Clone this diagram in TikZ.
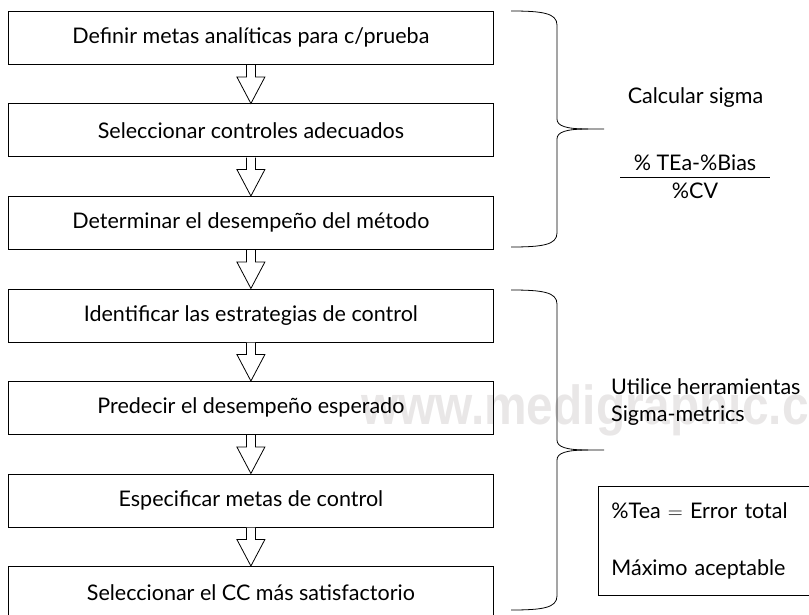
\documentclass[tikz,border=0pt]{standalone}
\usepackage{fontspec}
\setmainfont{Lato}
\newfontfamily\marcafont{Liberation Sans}
\usetikzlibrary{calc,positioning}

\tikzset{
  paso/.style={draw, line width=0.8pt, anchor=north west, inner sep=0pt,
    minimum width=485pt, minimum height=53pt, font=\fontsize{21.5}{26}\selectfont},
  flecha/.style={draw, fill=white, line width=0.8pt, line join=miter},
  llave/.style={line width=0.8pt},
  texto/.style={font=\fontsize{21.5}{27}\selectfont}
}

% flecha hueca de una caja a la siguiente
\newcommand{\bajada}[2]{%
  \draw[flecha] let \p1=(#1.south), \p2=(#2.north) in
    (\x1-4.5pt,\y1-0.4pt) -- (\x1-4.5pt,\y2+26.5pt) -- (\x1-14pt,\y2+26.5pt)
    -- (\x1,\y2) -- (\x1+14pt,\y2+26.5pt) -- (\x1+4.5pt,\y2+26.5pt)
    -- (\x1+4.5pt,\y1-0.4pt);}

\begin{document}
\begin{tikzpicture}[x=1pt,y=-1pt]
    \clip (0,0) rectangle (809,615);
    % Marca de agua
    \node[anchor=west, inner sep=0pt, text=red!6!gray!18, xscale=0.87,
        font=\marcafont\bfseries\fontsize{55}{55}\selectfont]
        (marca) at (361,410) {www.medigraphic.com};
    % Pasos
    \node[paso] (p1) at (8,11)    {Definir metas analíticas para c/prueba};
    \node[paso] (p2) at (8,103.5) {Seleccionar controles adecuados};
    \node[paso] (p3) at (8,196)   {Determinar el desempeño del método};
    \node[paso] (p4) at (8,288.5) {Identificar las estrategias de control};
    \node[paso] (p5) at (8,381)   {Predecir el desempeño esperado};
    \node[paso] (p6) at (8,473.5) {Especificar metas de control};
    \node[paso] (p7) at (8,566)   {Seleccionar el CC más satisfactorio};
    % Flechas
    \foreach \a/\b in {p1/p2,p2/p3,p3/p4,p4/p5,p5/p6,p6/p7}
        \bajada{\a}{\b};
    % Llaves
    \foreach \ya/\yb in {11/247,290/610} {
        \pgfmathsetmacro\ym{(\ya+\yb)/2}
        \draw[llave] (511,\ya) .. controls (542,\ya) and (557,\ya+2) .. (557,\ya+14)
            -- (557,\ym-10) .. controls (557,\ym-3) and (566,\ym) .. (588,\ym) -- (604,\ym);
        \draw[llave] (588,\ym) .. controls (566,\ym) and (557,\ym+3) .. (557,\ym+10)
            -- (557,\yb-14) .. controls (557,\yb-2) and (542,\yb) .. (511,\yb);
    }
    % Sigma
    \node[texto] (sigma) at (695.5,98) {Calcular sigma};
    \node[texto] (num) at (695,163) {\% TEa-\%Bias};
    \node[texto] (den) at (695,191) {\%CV};
    \coordinate (barra) at (695,177);
    \draw[llave] ([xshift=-10pt]num.west |- barra) -- ([xshift=10pt]num.east |- barra);
    % Herramientas
    \node[texto, anchor=west, align=left, inner sep=0pt] (util) at (611,402)
        {Utilice herramientas\\Sigma-metrics};
    % Recuadro
    \node[draw, line width=0.8pt, anchor=north west, minimum height=109pt,
        text width=260pt, inner xsep=13pt, align=left, texto] (tea) at (598,486)
        {\%Tea $=$ Error total\\[30pt]Máximo aceptable};
\end{tikzpicture}
\end{document}
